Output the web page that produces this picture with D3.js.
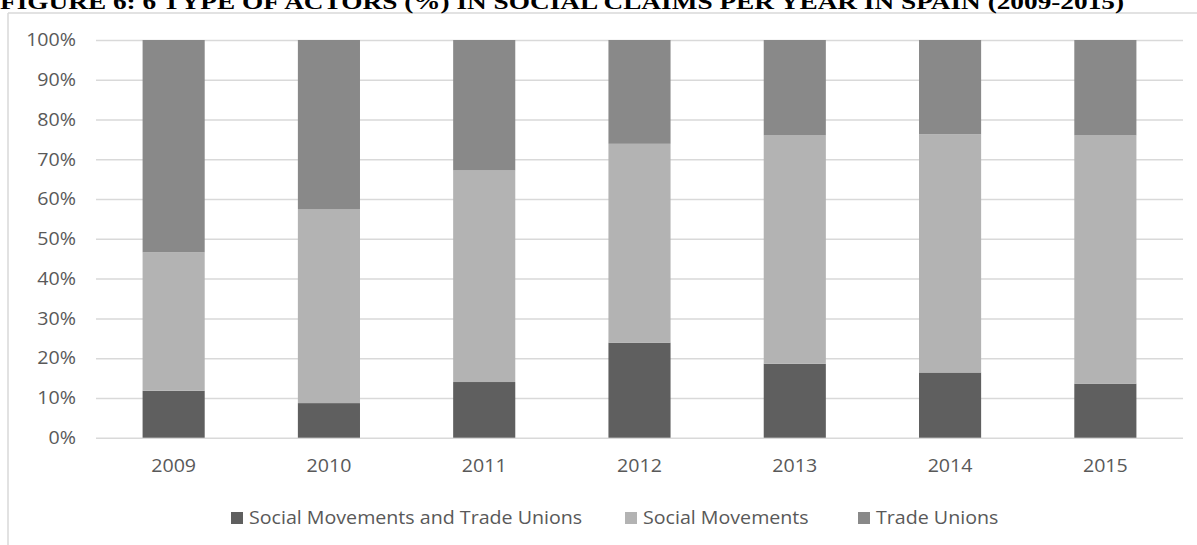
<!DOCTYPE html>
<html>
<head>
<meta charset="utf-8">
<script src="https://cdn.jsdelivr.net/npm/d3@7"></script>
<style>
  html, body { margin: 0; padding: 0; background: #fff; }
  svg { display: block; }
</style>
</head>
<body>
<svg id="chart" width="1197" height="545"></svg>
<script>
// Years on the horizontal axis
const years = ["2009", "2010", "2011", "2012", "2013", "2014", "2015"];

// Share of claims (%) by type of actor, stacked bottom to top
const seriesNames = ["Social Movements and Trade Unions", "Social Movements", "Trade Unions"];
const smAndTu      = [11.8,  8.7, 14.0, 23.9, 18.6, 16.4, 13.6];
const socialMov    = [34.8, 48.8, 53.2, 50.0, 57.4, 59.9, 62.4];
const tradeUnions  = [53.4, 42.5, 32.8, 26.1, 24.0, 23.7, 24.0];

const yTicks = [0, 10, 20, 30, 40, 50, 60, 70, 80, 90, 100];
const colors = ["#5f5f5f", "#b3b3b3", "#898989"];

const title = "FIGURE 6: 6 TYPE OF ACTORS (%) IN SOCIAL CLAIMS PER YEAR IN SPAIN (2009-2015)";

const svg = d3.select("#chart");
const font = "'Open Sans', 'DejaVu Sans', sans-serif";
const stretch = 1.09; // labels are set slightly wide

// widen a text selection horizontally by the stretch factor
function widen(sel) {
  sel.each(function () {
    const w = this.getComputedTextLength();
    d3.select(this)
      .attr("textLength", w * stretch)
      .attr("lengthAdjust", "spacingAndGlyphs");
  });
}

// Plot area
const plot = { left: 96, right: 1183, top: 40, bottom: 437.7 };

const x = d3.scaleBand()
  .domain(years)
  .range([plot.left, plot.right])
  .paddingInner(0.6)
  .paddingOuter(0.3);

const y = d3.scaleLinear().domain([0, 100]).range([plot.bottom, plot.top]);

// Rows for the stack layout
const rows = years.map((yr, i) => ({
  year: yr,
  [seriesNames[0]]: smAndTu[i],
  [seriesNames[1]]: socialMov[i],
  [seriesNames[2]]: tradeUnions[i]
}));
const stacked = d3.stack().keys(seriesNames)(rows);

// Chart frame
svg.append("line")
  .attr("x1", 8).attr("x2", 1197).attr("y1", 13).attr("y2", 13)
  .attr("stroke", "#d9d9d9").attr("stroke-width", 1.5);
svg.append("line")
  .attr("x1", 8).attr("x2", 8).attr("y1", 13).attr("y2", 545)
  .attr("stroke", "#d9d9d9").attr("stroke-width", 1.5);

// Title (its top edge runs off the page)
svg.append("text")
  .attr("x", 0).attr("y", 9)
  .attr("font-family", "'Liberation Serif', 'Times New Roman', serif")
  .attr("font-weight", "bold")
  .attr("font-size", 20)
  .attr("textLength", 1124)
  .attr("lengthAdjust", "spacingAndGlyphs")
  .attr("fill", "#000")
  .text(title);

// Gridlines and y labels
const yAxis = d3.axisLeft(y)
  .tickValues(yTicks)
  .tickSize(-(plot.right - plot.left))
  .tickFormat(d => d + "%");

const gy = svg.append("g")
  .attr("transform", `translate(${plot.left},0)`)
  .call(yAxis);
gy.select(".domain").remove();
gy.selectAll(".tick line")
  .attr("stroke", "#d9d9d9").attr("stroke-width", 1.5);
gy.selectAll(".tick text")
  .attr("x", -20)
  .attr("fill", "#595959")
  .attr("font-family", font)
  .attr("font-size", 18)
  .call(widen);

// Stacked bars
svg.append("g")
  .selectAll("g")
  .data(stacked)
  .join("g")
  .attr("fill", (d, i) => colors[i])
  .selectAll("rect")
  .data(d => d)
  .join("rect")
  .attr("x", d => x(d.data.year))
  .attr("width", x.bandwidth())
  .attr("y", d => y(d[1]))
  .attr("height", d => y(d[0]) - y(d[1]));

// Year labels
const xAxis = d3.axisBottom(x).tickSize(0).tickPadding(0);
const gx = svg.append("g")
  .attr("transform", `translate(0,${plot.bottom})`)
  .call(xAxis);
gx.select(".domain").remove();
gx.selectAll(".tick text")
  .attr("y", 22)
  .attr("dy", "0.71em")
  .attr("fill", "#595959")
  .attr("font-family", font)
  .attr("font-size", 18)
  .call(widen);

// Legend
const legendX = [231, 625, 858];
const legend = svg.append("g")
  .selectAll("g")
  .data(seriesNames)
  .join("g")
  .attr("transform", (d, i) => `translate(${legendX[i]},512)`);
legend.append("rect")
  .attr("width", 12).attr("height", 12)
  .attr("fill", (d, i) => colors[i]);
legend.append("text")
  .attr("x", 18).attr("y", 6)
  .attr("dy", "0.35em")
  .attr("fill", "#595959")
  .attr("font-family", font)
  .attr("font-size", 18)
  .call(widen);
legend.selectAll("text").text(d => d).call(widen);
</script>
</body>
</html>
